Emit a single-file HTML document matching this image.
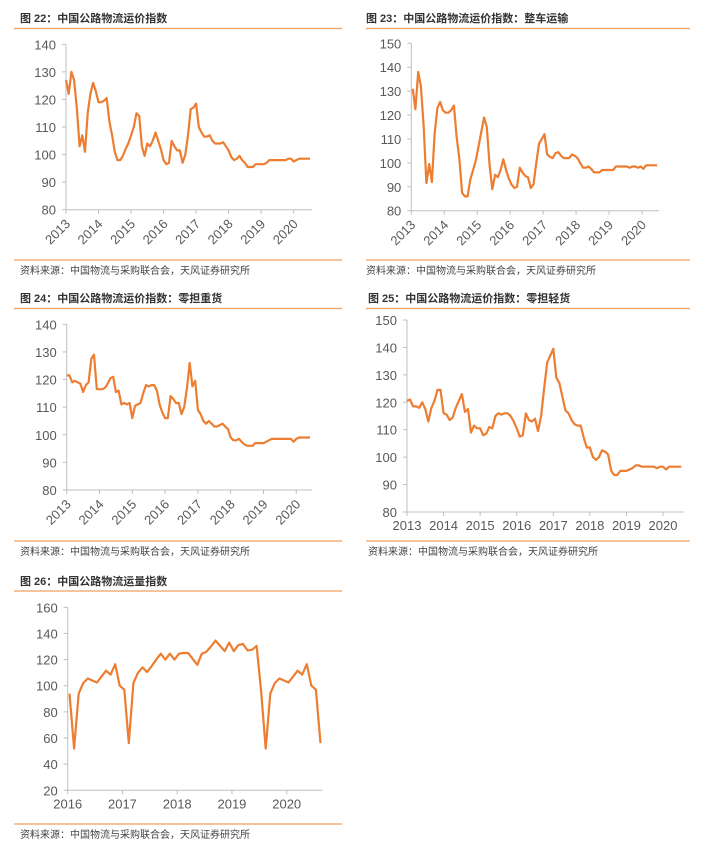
<!DOCTYPE html>
<html><head><meta charset="utf-8"><style>
body{margin:0;background:#fff;width:705px;height:845px;overflow:hidden}
svg{display:block;font-family:"Liberation Sans","Noto Sans CJK SC",sans-serif}
.t{font-size:11px;font-weight:bold;fill:#333}
.s{font-size:10px;fill:#444}
.tk{font-size:13px;fill:#595959}
</style></head><body>
<svg id="s" width="705" height="845"></svg>
<script>
const yearsA=["2013","2014","2015","2016","2017","2018","2019","2020"];
const yearsB=["2016","2017","2018","2019","2020"];
const ticks22=[80,90,100,110,120,130,140];
const ticks23=[80,90,100,110,120,130,140,150];
const ticks26=[20,40,60,80,100,120,140,160];
const v22=[127,122,130,127,117,103,107,101,115,122,126,123,119,119,119.5,120.5,112,107,101,98,98,99.5,102,104,107,110,115,114,103,99.5,104,103,105,108,105,102,98,96.5,97,105,103,101.5,101.5,97,100,107,116.5,117,118.5,110,108,106.5,106.5,107,105,104,104,104,104.5,103,101.5,99,98,98.5,99.5,98,97,95.5,95.5,95.5,96.5,96.5,96.5,96.5,97,98,98,98,98,98,98,98,98.5,98.5,97.5,98,98.5,98.5,98.5,98.5,98.5];
const v23=[131,122.5,138,132,115,91.5,99.5,92,112,123,125.5,122,121,121,122,124,111,101.5,87.5,86,86,93,97,101,107,113,119,115,99,89,95,94,97,101.5,97,93.5,91,89.5,90,98,96,94.5,94,89.5,91,100,108,110,112,103.5,102.5,102,104,104.5,103,102,102,102,103.5,103,102,100,98,98,98.5,97.5,96,96,96,97,97,97,97,97,98.5,98.5,98.5,98.5,98.5,98,98.5,98.5,98,98.5,97.5,99,99,99,99,99];
const v24=[121.5,121.5,119,119.5,119,118.5,115.5,118,119,127.5,129,116.5,116.5,116.5,117,118.5,120.5,121,115.5,116,111,111.5,111,111.5,106,110.5,111,111.5,115,118,117.5,118,118,116,111,108,106,106,114,113,111.5,111.5,107.5,110,117,126,117.5,119.5,109,107.5,105,104,105,104,103,103,103.5,104,103,102,99,98,98,98.5,97.5,96.5,96,96,96,97,97,97,97,97.5,98,98.5,98.5,98.5,98.5,98.5,98.5,98.5,98.5,97.5,98.5,99,99,99,99,99];
const v25=[120.5,121,118.5,118.5,118,120,117.5,113,118,120.5,124.5,124.5,116,115.5,113.5,114.5,118,120.5,123,116.5,117.5,109,111.5,110.5,110.5,108,108.5,111,110.5,115,116,115.5,116,116,115,113,110.5,107.5,108,116,113.5,113,114,109.5,115,125,134.5,137,139.5,129,127,122,117,116,113.5,112,111.5,111.5,107,103.5,103.5,100,99,100,102.5,102,101,95,93.5,93.5,95,95,95,95.5,96,97,97,96.5,96.5,96.5,96.5,96.5,96,96.5,96.5,95.5,96.5,96.5,96.5,96.5,96.5];
const v26=[94,52,94,102,105.5,104,102.5,107,111.5,108.5,116.5,100,97,56,102,110,114,110.5,115,120,124.5,120,124.5,120,124.5,125,125,120.5,116,124.5,126,130,134.5,130.5,126.5,133,126.5,131,132,127,127.5,130.5,96,52,94,102,105.5,104,102.5,107,111.5,108.5,116.5,100,97,56];

const S=document.getElementById('s');
const NS='http://www.w3.org/2000/svg';
function mk(tag,attrs,txt){const e=document.createElementNS(NS,tag);for(const k in attrs)e.setAttribute(k,attrs[k]);if(txt!==undefined)e.textContent=txt;S.appendChild(e);return e;}

function chart(c){
  const g=c.prefix;
  let e=mk('text',{x:c.tx,y:c.ty,class:'t'},c.title);
  
  
  e=mk('line',{x1:c.rx1,x2:c.rx2,y1:c.rt,y2:c.rt,stroke:'#F0A060','stroke-width':1.3});
  
  
  e=mk('line',{x1:c.rx1,x2:c.rx2,y1:c.rb,y2:c.rb,stroke:'#F0A060','stroke-width':1.3});
  
  
  e=mk('text',{x:c.tx,y:c.rb+14,class:'s'},'资料来源：中国物流与采购联合会，天风证券研究所');
  
  
  const ymin=c.yt[0],ymax=c.yt[c.yt.length-1];
  const Y=v=>c.yb-(v-ymin)/(ymax-ymin)*(c.yb-c.ytop);
  const yrW=(c.x2020-c.x0)/(c.years.length-1);
  const X=i=>c.x0+c.off*yrW/12+i*yrW/12;
  const xend=X(c.vals.length-1)+2;
  e=mk('line',{x1:c.x0,x2:c.x0,y1:c.ytop,y2:c.yb,stroke:'#BFBFBF','stroke-width':1});
  
  
  e=mk('line',{x1:c.x0,x2:xend,y1:c.yb,y2:c.yb,stroke:'#BFBFBF','stroke-width':1});
  
  
  c.yt.forEach(v=>{
    const t=mk('text',{x:c.x0-10,y:Y(v)+5,'text-anchor':'end',class:'tk'},String(v));
    
    
    const l=mk('line',{x1:c.x0-4,x2:c.x0,y1:Y(v),y2:Y(v),stroke:'#BFBFBF'});
    
    
  });
  c.years.forEach((yr,i)=>{
    const x=c.x0+i*yrW;
    const l=mk('line',{x1:x,x2:x,y1:c.yb,y2:c.yb+4,stroke:'#BFBFBF'});
    
    
    let t;
    if(c.rot){t=mk('text',{x:x+5,y:c.yb+15,'text-anchor':'end',class:'tk',transform:`rotate(-45 ${x+5} ${c.yb+15})`},yr);}
    else{t=mk('text',{x:x,y:c.yb+18,'text-anchor':'middle',class:'tk'},yr);}
    
    
  });
  const pts=c.vals.map((v,i)=>X(i).toFixed(1)+','+Y(v).toFixed(1)).join(' ');
  e=mk('polyline',{points:pts,fill:'none',stroke:'#ED7D31','stroke-width':2.2,'stroke-linejoin':'round'});
  
  
}
chart({prefix:'fig22',title:'图 22：中国公路物流运价指数',tx:20,ty:22,rx1:14,rx2:342,rt:28.5,rb:260,x0:66,x2020:293.7,ytop:44.3,yb:209.7,yt:ticks22,years:yearsA,vals:v22,rot:true,off:0});
chart({prefix:'fig23',title:'图 23：中国公路物流运价指数：整车运输',tx:366,ty:22,rx1:366,rx2:690,rt:28.5,rb:260,x0:411.3,x2020:642,ytop:43.3,yb:210.7,yt:ticks23,years:yearsA,vals:v23,rot:true,off:0.5});
chart({prefix:'fig24',title:'图 24：中国公路物流运价指数：零担重货',tx:20,ty:302,rx1:14,rx2:342,rt:308.5,rb:541,x0:66.7,x2020:296.3,ytop:324.3,yb:490,yt:ticks22,years:yearsA,vals:v24,rot:true,off:0});
chart({prefix:'fig25',title:'图 25：中国公路物流运价指数：零担轻货',tx:368,ty:302,rx1:366,rx2:690,rt:308.5,rb:541,x0:407,x2020:663,ytop:320,yb:512,yt:ticks23,years:yearsA,vals:v25,rot:false,off:0});
chart({prefix:'fig26',title:'图 26：中国公路物流运量指数',tx:20,ty:585,rx1:14,rx2:342,rt:591,rb:824,x0:67.7,x2020:286.7,ytop:607.3,yb:790.3,yt:ticks26,years:yearsB,vals:v26,rot:false,off:0.4});
</script>
</body></html>
